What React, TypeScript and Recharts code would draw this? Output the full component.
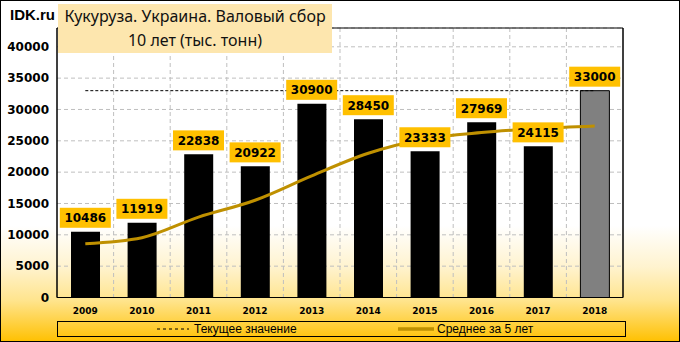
import React from 'react';
import {
  Bar,
  CartesianGrid,
  Cell,
  ComposedChart,
  LabelList,
  Line,
  ReferenceArea,
  XAxis,
  YAxis,
} from 'recharts';

const YEARS = ['2009', '2010', '2011', '2012', '2013', '2014', '2015', '2016', '2017', '2018'];
const HARVEST = [10486, 11919, 22838, 20922, 30900, 28450, 23333, 27969, 24115, 33000];
const AVG_5Y = [8590, 9540, 12820, 15520, 19410, 23010, 25290, 26320, 26950, 27370];
const CURRENT = 33000;
const Y_TICKS = [0, 5000, 10000, 15000, 20000, 25000, 30000, 35000, 40000];

const GOLD = '#FFC000';
const OLIVE = '#BF9000';

const rows = YEARS.map((year, i) => ({
  year,
  harvest: HARVEST[i],
  avg: AVG_5Y[i],
  current: CURRENT,
}));

const ValueTag = (props: any) => {
  const { x, y, value } = props;
  if (x == null || y == null) return null;
  return (
    <g>
      <rect x={x - 25.5} y={y - 24} width={51} height={20} fill={GOLD} />
      <text
        x={x}
        y={y - 13.5}
        textAnchor="middle"
        dominantBaseline="central"
        fontFamily="DejaVu Sans"
        fontWeight="bold"
        fontSize={12}
        fill="#000"
      >
        {value}
      </text>
    </g>
  );
};

export default function App() {
  const n = YEARS.length;
  return (
    <div
      style={{
        position: 'absolute',
        left: 0,
        top: 0,
        width: 680,
        height: 342,
        background:
          'linear-gradient(to bottom, #ffffff 0%, #ffffff 66%, #fff3cf 78%, #ffe48c 88%, #ffc000 100%)',
        overflow: 'hidden',
      }}
    >
      <ComposedChart
        width={680}
        height={342}
        data={rows}
        margin={{ top: 28, right: 0, bottom: 0, left: 0 }}
      >
        <CartesianGrid
          yAxisId="left"
          stroke="#BFBFBF"
          strokeDasharray="4 3"
          verticalCoordinatesGenerator={({ offset }: any) =>
            Array.from({ length: n - 1 }, (_, i) => offset.left + (offset.width * (i + 1)) / n)
          }
        />
        <XAxis
          dataKey="year"
          height={44.5}
          tickLine={false}
          axisLine={{ stroke: '#000' }}
          tickMargin={4}
          tick={{ fontFamily: 'DejaVu Sans', fontWeight: 'bold', fontSize: 9, fill: '#000' }}
        />
        <YAxis
          yAxisId="left"
          width={57}
          domain={[0, 43000]}
          ticks={Y_TICKS}
          tickLine={false}
          axisLine={{ stroke: '#000' }}
          tick={{ fontFamily: 'DejaVu Sans', fontWeight: 'bold', fontSize: 12, fill: '#000' }}
        />
        <YAxis
          yAxisId="right"
          orientation="right"
          width={57}
          domain={[0, 43000]}
          ticks={Y_TICKS}
          tickLine={false}
          tickMargin={6}
          axisLine={{ stroke: '#000' }}
          tick={{ fontFamily: 'DejaVu Sans', fontSize: 12, fill: '#000' }}
        />
        <ReferenceArea yAxisId="left" y1={0} y2={43000} fill="none" stroke="#000" strokeWidth={1} />
        <Line
          yAxisId="left"
          dataKey="current"
          type="linear"
          stroke="#000"
          strokeWidth={1}
          strokeDasharray="3 2"
          dot={false}
          activeDot={false}
          isAnimationActive={false}
        />
        <Bar yAxisId="left" dataKey="harvest" barSize={29} isAnimationActive={false}>
          {rows.map((r, i) => (
            <Cell
              key={r.year}
              fill={i === n - 1 ? '#808080' : '#000'}
              stroke="#000"
              strokeWidth={i === n - 1 ? 1 : 0}
            />
          ))}
        </Bar>
        <Line
          yAxisId="left"
          dataKey="avg"
          type="monotone"
          stroke={OLIVE}
          strokeWidth={3}
          dot={false}
          activeDot={false}
          isAnimationActive={false}
        />
        <Line
          yAxisId="left"
          dataKey="harvest"
          stroke="none"
          dot={false}
          activeDot={false}
          isAnimationActive={false}
        >
          <LabelList dataKey="harvest" content={ValueTag} />
        </Line>
      </ComposedChart>

      {/* header */}
      <div
        style={{
          position: 'absolute',
          left: 10,
          top: 5,
          fontFamily: 'Liberation Sans',
          fontWeight: 'bold',
          fontSize: 15,
          lineHeight: '20px',
          color: '#000',
        }}
      >
        IDK.ru
      </div>
      <div
        style={{
          position: 'absolute',
          left: 58,
          top: 4,
          width: 274,
          height: 49,
          background: '#FDE6AE',
          fontFamily: 'Noto Sans',
          fontSize: 16,
          color: '#111',
          textAlign: 'center',
        }}
      >
        <div style={{ lineHeight: '24px' }}>Кукуруза. Украина. Валовый сбор</div>
        <div style={{ lineHeight: '24px' }}>10 лет (тыс. тонн)</div>
      </div>

      {/* legend */}
      <div
        style={{
          position: 'absolute',
          left: 57,
          top: 321,
          width: 569,
          height: 16,
          boxSizing: 'border-box',
          border: '1px solid #000',
          fontFamily: 'Liberation Sans',
          fontSize: 12,
          color: '#000',
        }}
      >
        <svg style={{ position: 'absolute', left: 98, top: 0 }} width={34} height={14}>
          <line x1={1} y1={7} x2={33} y2={7} stroke="#000" strokeWidth={1} strokeDasharray="3 3" />
        </svg>
        <span style={{ position: 'absolute', left: 136, top: 0, lineHeight: '14px' }}>Текущее значение</span>
        <svg style={{ position: 'absolute', left: 340, top: 0 }} width={38} height={14}>
          <line x1={0} y1={7} x2={36} y2={7} stroke={OLIVE} strokeWidth={3.5} />
        </svg>
        <span style={{ position: 'absolute', left: 379, top: 0, lineHeight: '14px' }}>Среднее за 5 лет</span>
      </div>

      <div
        style={{
          position: 'absolute',
          left: 0,
          top: 0,
          width: 680,
          height: 342,
          boxSizing: 'border-box',
          border: '1px solid #000',
          pointerEvents: 'none',
        }}
      />
    </div>
  );
}
